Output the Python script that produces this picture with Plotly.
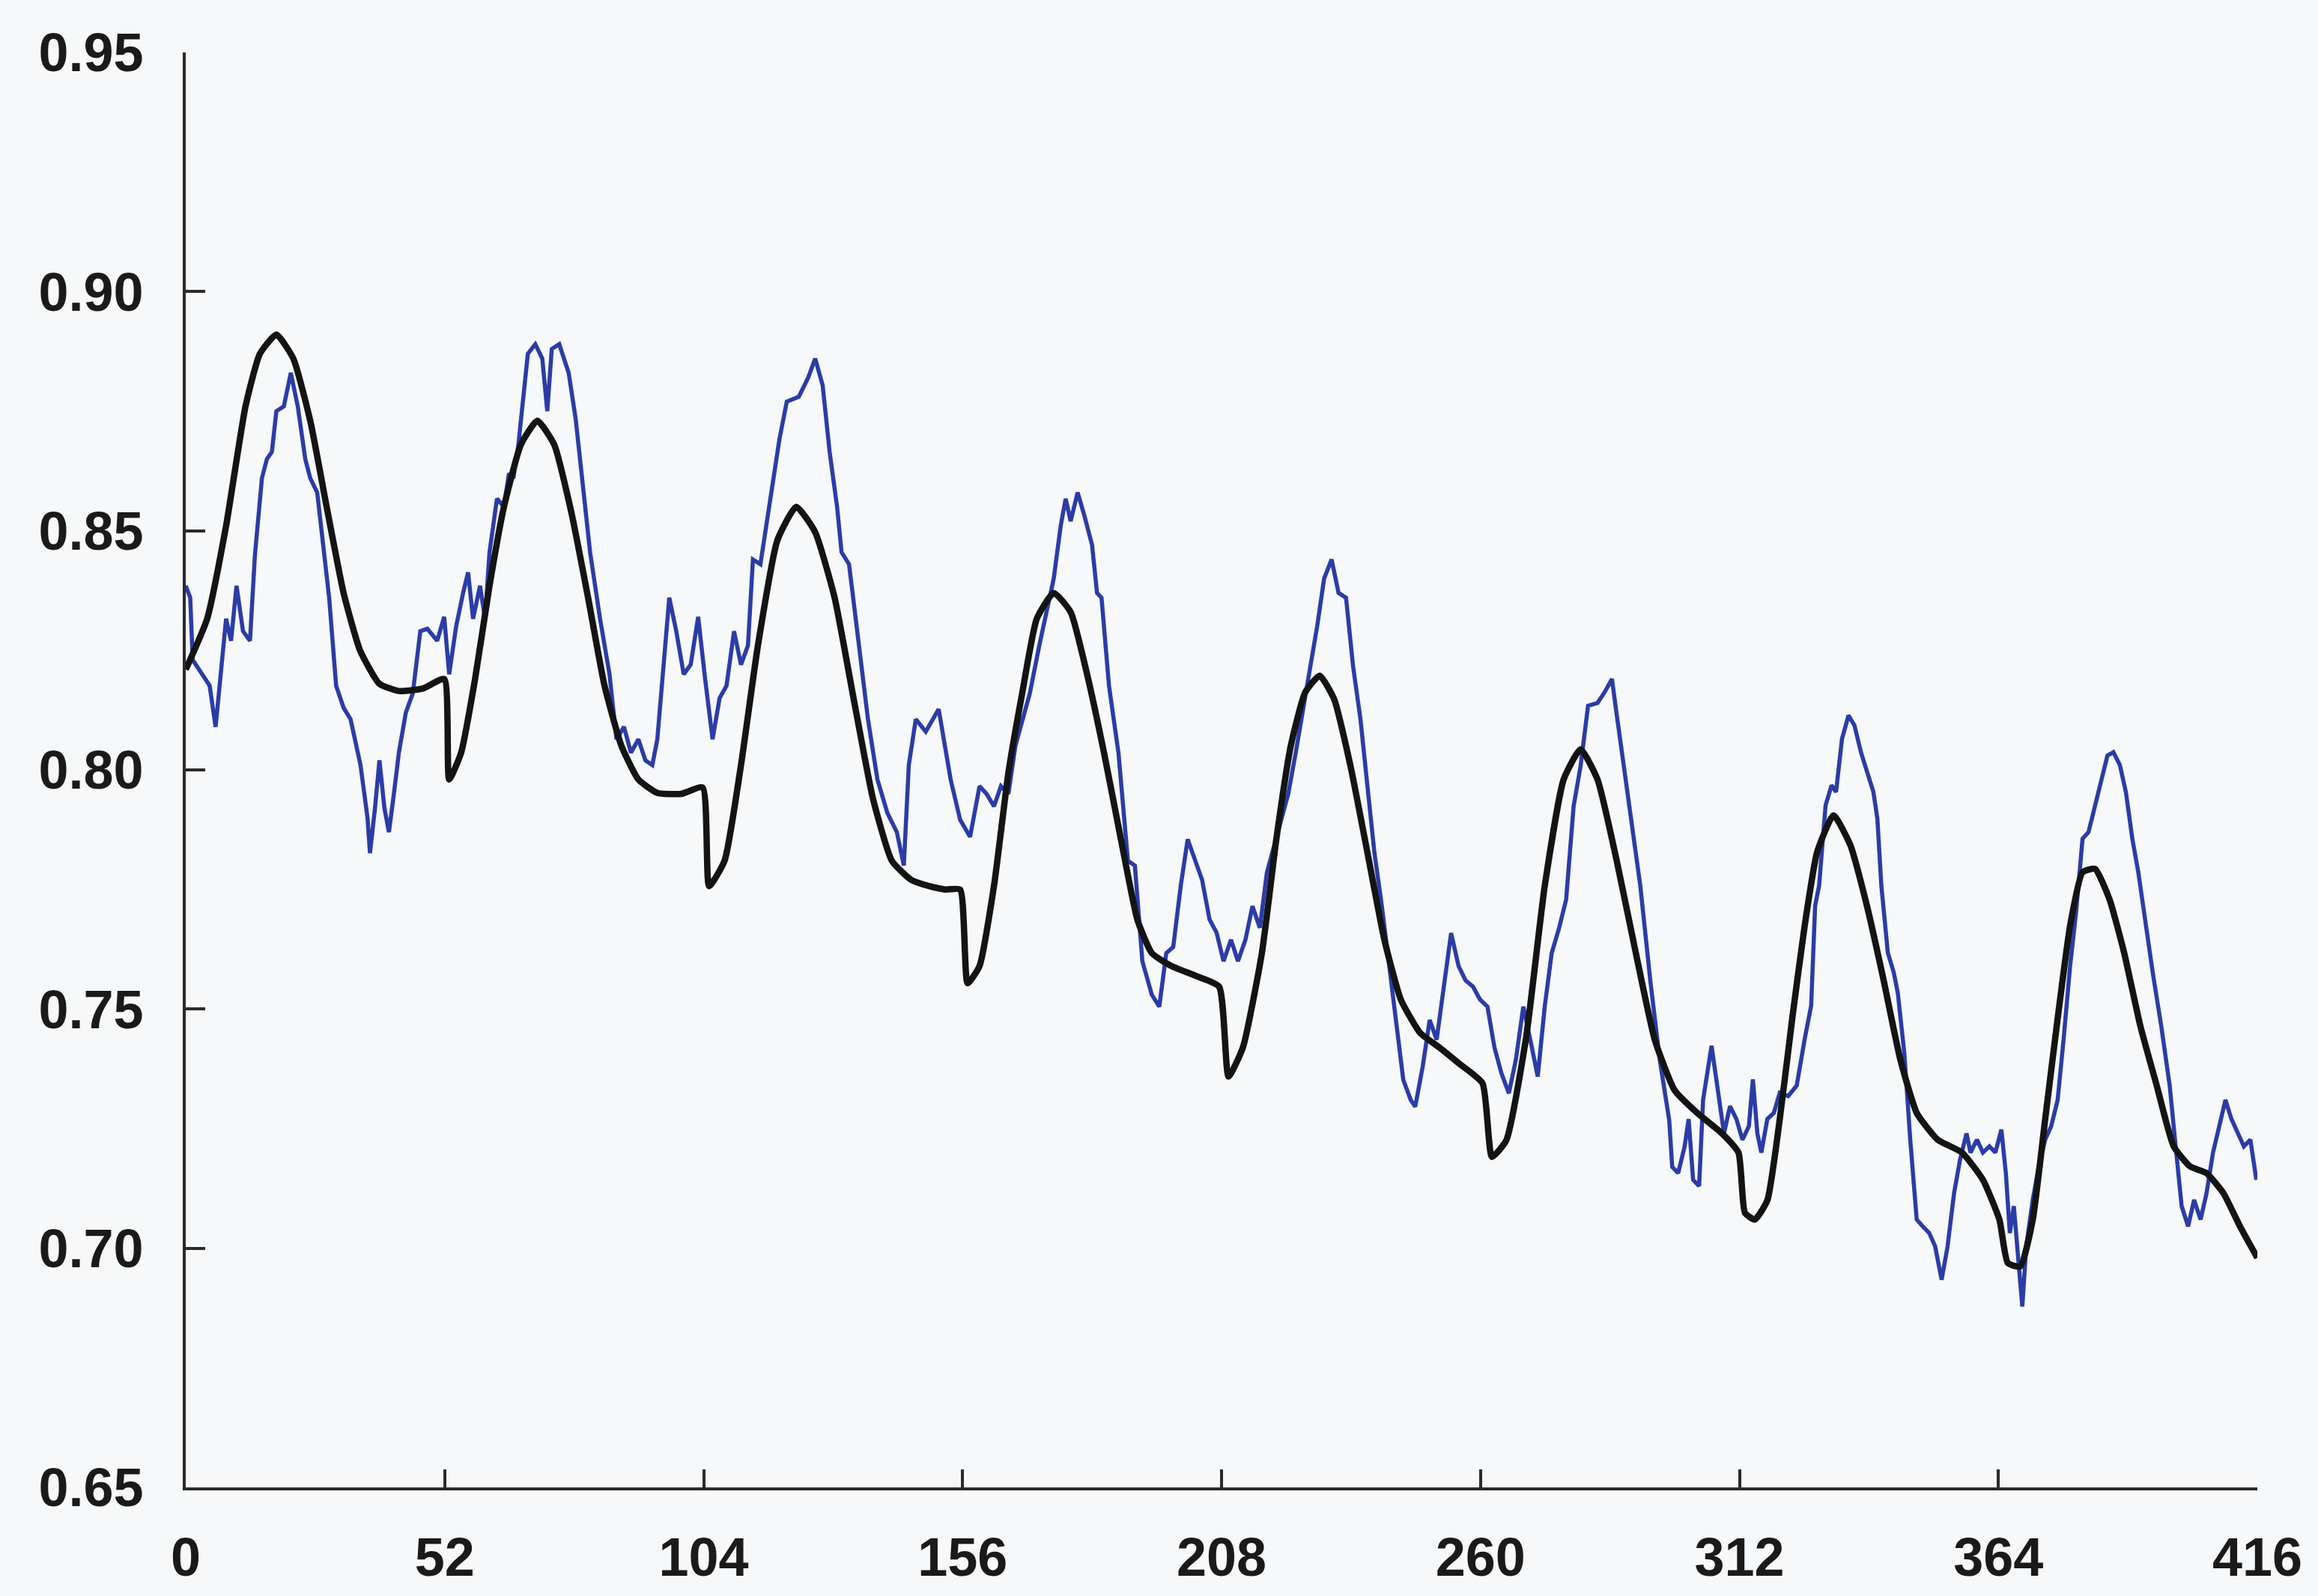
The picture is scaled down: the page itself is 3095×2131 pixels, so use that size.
import plotly.graph_objects as go

# ---- data ----
black_weeks = [0, 4.3, 8.1, 12, 14.9, 18.2, 21.6, 25, 28.3, 31.7, 35, 38.9, 42.8, 47.6, 51.9,
               52.9, 55.3, 58.1, 61, 63.9, 67.3, 70.6, 74, 77.4, 80.8, 84.1, 87.5, 90.9, 94.7, 99.5, 103.8,
               105.1, 108.2, 111.5, 114.9, 118.8, 122.6, 126.4, 130.3, 134.1, 138, 141.8, 145.7, 149.3, 152.6, 155.5,
               157, 159.4, 162.3, 165.2, 168, 170.9, 174.3, 177.7, 181, 184.4, 187.8, 191.1, 194, 197.9, 202.7, 207.5,
               209.4, 212.3, 216.1, 219, 221.9, 224.8, 227.7, 230.6, 233.9, 237.3, 240.7, 244, 247.9, 251.7, 255.6, 260.4,
               262.3, 265.2, 269.1, 272.9, 276.7, 280.1, 283.5, 287.3, 291.2, 295, 299, 303.5, 308.5, 311.8,
               313.1, 315.1, 317.6, 320.1, 322.6, 325.1, 327.6, 330.9, 334.3, 337.6, 340.9, 344.3, 347.6, 351.8, 356.7,
               360.9, 364.2, 365.9, 368.4, 370.9, 373.4, 375.9, 378.4, 380.9, 383.4, 386.3, 389.2, 392.5, 395.8, 399.2,
               402.5, 405.8, 409.2, 412.5, 416]
black_values = [0.821, 0.8316, 0.851, 0.876, 0.887, 0.891, 0.886, 0.873, 0.855, 0.837, 0.825, 0.818, 0.8165, 0.817, 0.819,
                0.798, 0.8036, 0.819, 0.8385, 0.855, 0.868, 0.873, 0.868, 0.854, 0.836, 0.8176, 0.805, 0.798, 0.7952, 0.795, 0.7963,
                0.7757, 0.781, 0.801, 0.826, 0.848, 0.855, 0.8497, 0.836, 0.815, 0.794, 0.781, 0.777, 0.7757, 0.775, 0.775,
                0.7554, 0.759, 0.7757, 0.7994, 0.8162, 0.8316, 0.837, 0.833, 0.820, 0.8036, 0.7855, 0.7687, 0.7617, 0.759, 0.757, 0.7547,
                0.7359, 0.742, 0.7617, 0.7855, 0.805, 0.8162, 0.8197, 0.8148, 0.8008, 0.7827, 0.7645, 0.752, 0.745, 0.742, 0.7387, 0.7345,
                0.7191, 0.7226, 0.7436, 0.7757, 0.798, 0.8043, 0.798, 0.7813, 0.7617, 0.7436, 0.733, 0.7283, 0.724, 0.720,
                0.7074, 0.706, 0.710, 0.727, 0.748, 0.7674, 0.7828, 0.7905, 0.7842, 0.7716, 0.7563, 0.7395, 0.7283, 0.7227, 0.720,
                0.7143, 0.706, 0.6969, 0.6962, 0.706, 0.727, 0.748, 0.7674, 0.7786, 0.7793, 0.773, 0.762, 0.7465, 0.734, 0.7213,
                0.7171, 0.7157, 0.7115, 0.7046, 0.698]

blue_weeks = [0, 0.9, 1.4, 3.3, 4.8, 6, 7.2, 8.1, 9.1, 10.2, 11.5, 12.9, 13.9, 15.3, 16.3, 17.3, 18.2, 19.7, 21.1, 22.5,
              24, 25, 26.4, 27.4, 28.8, 30.2, 31.7, 33.1, 35.1, 36.5, 37, 38, 38.9, 39.9, 40.8, 41.8, 42.8, 44.2, 45.6, 47.1,
              48.5, 50.5, 51.9, 52.9, 54.3, 55.7, 56.7, 57.7, 59.1, 60.1, 61, 62.5, 63.9, 64.9, 65.8, 66.8, 67.8, 68.7, 70.2,
              71.6, 72.6, 73.5, 75, 76.9, 78.3, 79.8, 81.2, 83.2, 85.1, 86.5, 88, 89.4, 90.9, 92.3, 93.7, 94.7, 95.7, 97.1,
              98.5, 100, 101.4, 102.9, 104.3, 105.8, 107.2, 108.6, 110.1, 111.5, 112.9, 113.9, 115.4, 117.3, 119.2, 120.7,
              123.1, 125, 126.4, 127.9, 129.3, 130.8, 131.7, 133.2, 135.1, 137, 138.9, 140.9, 142.8, 144.2, 145.2, 146.6,
              148.6, 151.2, 153.6, 155.5, 157.5, 159.4, 160.8, 162.3, 163.7, 165.2, 166.6, 168, 169.5, 171.4, 172.9, 174.3,
              175.7, 176.7, 177.7, 179.1, 180.5, 182, 183, 183.9, 185.4, 187.3, 189.2, 190.6, 192.1, 194, 195.5, 196.9,
              198.3, 199.8, 201.2, 202.7, 204.1, 205.6, 207, 208.4, 209.9, 211.3, 212.8, 214.2, 215.7, 217.1, 218.5, 220,
              221.4, 222.9, 224.3, 225.8, 227.2, 228.6, 230.1, 231.5, 233, 234.4, 235.9, 237.3, 238.7, 240.2, 241.6, 243.1,
              244.5, 246, 246.9, 248.4, 249.8, 251.2, 252.7, 254.1, 255.6, 257, 258.5, 259.9, 261.4, 262.8, 264.2, 265.7,
              267.1, 268.6, 270, 271.5, 272.9, 274.3, 275.8, 277.2, 278.7, 280.1, 281.6, 283.5, 284.9, 286.4, 287.3, 288.8,
              290.2, 292.1, 294.1, 296, 297.9, 298.5, 299.7, 301, 301.8, 302.7, 303.9, 304.7, 306.4, 307.6, 308.9, 310.1,
              311.4, 312.6, 313.9, 314.7, 315.6, 316.4, 317.6, 318.9, 320.1, 321.8, 323.5, 325.1, 326.4, 327.2, 328, 329.3,
              330.5, 331.4, 332.6, 333.9, 335.1, 336.4, 337.6, 338.9, 339.7, 340.5, 341.8, 343, 343.8, 345.1, 346.3, 347.6,
              348.8, 350.1, 351.3, 352.6, 353.8, 355.1, 356.3, 357.6, 358.4, 359.7, 360.9, 362.2, 363.4, 364.6, 365.5, 366.3,
              367.1, 368, 368.8, 369.6, 370.9, 372.1, 373.4, 374.6, 375.9, 377.1, 378.4, 379.6, 380.9, 382.1, 383.4, 384.6,
              385.9, 387.1, 388.4, 389.6, 390.9, 392.1, 393.4, 395, 396.7, 398.4, 399.6, 400.8, 402.1, 403.3, 404.6, 405.8,
              407.1, 408.3, 409.6, 410.8, 412.1, 413.3, 414.6, 415.8]
blue_values = [0.8385, 0.836, 0.823, 0.820, 0.8176, 0.809, 0.823, 0.8316, 0.827, 0.8385, 0.829, 0.827, 0.845, 0.861, 0.865,
               0.8665, 0.875, 0.876, 0.883, 0.876, 0.865, 0.861, 0.858, 0.848, 0.836, 0.8176, 0.813, 0.8106, 0.801, 0.790,
               0.7826, 0.792, 0.802, 0.792, 0.787, 0.795, 0.8036, 0.812, 0.816, 0.829, 0.8295, 0.827, 0.832, 0.820, 0.830,
               0.837, 0.8413, 0.8316, 0.8385, 0.8316, 0.8455, 0.8567, 0.855, 0.862, 0.861, 0.868, 0.879, 0.887, 0.889, 0.886,
               0.875, 0.888, 0.889, 0.883, 0.8734, 0.8595, 0.8455, 0.8316, 0.820, 0.8064, 0.809, 0.8036, 0.8064, 0.802, 0.801,
               0.8064, 0.819, 0.836, 0.829, 0.820, 0.822, 0.832, 0.819, 0.8064, 0.815, 0.8176, 0.829, 0.822, 0.826, 0.844,
               0.843, 0.8567, 0.869, 0.877, 0.878, 0.882, 0.886, 0.8804, 0.8665, 0.855, 0.8455, 0.843, 0.827, 0.8106, 0.798,
               0.791, 0.787, 0.780, 0.801, 0.8106, 0.808, 0.8127, 0.798, 0.7896, 0.786, 0.7966, 0.795, 0.7924, 0.7966, 0.795,
               0.805, 0.8106, 0.816, 0.826, 0.833, 0.840, 0.851, 0.8567, 0.852, 0.858, 0.853, 0.847, 0.837, 0.836, 0.8176,
               0.8036, 0.781, 0.780, 0.760, 0.753, 0.7505, 0.7617, 0.763, 0.7757, 0.7855, 0.781, 0.777, 0.7687, 0.766, 0.760,
               0.7645, 0.760, 0.7645, 0.7715, 0.767, 0.7785, 0.7841, 0.7896, 0.795, 0.8036, 0.812, 0.8218, 0.830, 0.840, 0.844,
               0.837, 0.836, 0.8218, 0.8106, 0.7966, 0.7827, 0.7715, 0.760, 0.7477, 0.7352, 0.731, 0.7296, 0.738, 0.7477,
               0.7436, 0.7547, 0.7659, 0.759, 0.756, 0.7547, 0.752, 0.7505, 0.742, 0.7366, 0.7324, 0.7394, 0.7505, 0.7436,
               0.7359, 0.7505, 0.7617, 0.767, 0.7729, 0.7924, 0.8008, 0.8134, 0.814, 0.8162, 0.819, 0.812, 0.8008, 0.7896,
               0.7757, 0.756, 0.7394, 0.7268, 0.717, 0.7157, 0.7213, 0.727, 0.7143, 0.713, 0.731, 0.7423, 0.734, 0.724, 0.7297,
               0.727, 0.7227, 0.7255, 0.7353, 0.724, 0.720, 0.727, 0.7283, 0.7325, 0.7318, 0.734, 0.7437, 0.7507, 0.7716,
               0.7758, 0.7926, 0.7968, 0.7954, 0.8065, 0.8114, 0.8093, 0.8037, 0.7996, 0.7954, 0.7898, 0.7758, 0.7618, 0.7576,
               0.7534, 0.7409, 0.7227, 0.706, 0.7046, 0.7032, 0.7004, 0.6934, 0.7004, 0.7115, 0.7185, 0.724, 0.720, 0.7227,
               0.720, 0.7213, 0.720, 0.7248, 0.7157, 0.7032, 0.7088, 0.6962, 0.6878, 0.7004, 0.7101, 0.7171, 0.7227, 0.7255,
               0.731, 0.7437, 0.759, 0.7702, 0.7856, 0.787, 0.7926, 0.7982, 0.803, 0.8037, 0.801, 0.7954, 0.7856, 0.7786,
               0.7688, 0.7576, 0.7465, 0.734, 0.7213, 0.7088, 0.7046, 0.7101, 0.706, 0.7115, 0.720, 0.7255, 0.731, 0.727,
               0.724, 0.7213, 0.7227, 0.7143]

x_ticks = [0, 52, 104, 156, 208, 260, 312, 364, 416]
y_ticks = [0.65, 0.70, 0.75, 0.80, 0.85, 0.90, 0.95]

BG = "#f6f8fa"
AX = "#2a2a2a"
FONT = dict(family="Liberation Sans, Arial, sans-serif", size=72, color="#1a1a1a", weight="bold")

fig = go.Figure()
fig.add_trace(go.Scatter(x=blue_weeks, y=blue_values, mode="lines",
                         line=dict(color="#2b3ca6", width=5.5), showlegend=False))
fig.add_trace(go.Scatter(x=black_weeks, y=black_values, mode="lines",
                         line=dict(color="#141414", width=8.5, shape="spline", smoothing=0.5),
                         showlegend=False))

fig.update_layout(
    width=3095, height=2131,
    margin=dict(l=248, r=81, t=70, b=141, pad=0),
    paper_bgcolor=BG, plot_bgcolor=BG,
    font=FONT,
    xaxis=dict(range=[0, 416], tickvals=x_ticks, ticktext=[str(v) for v in x_ticks],
               showgrid=False, zeroline=False, showline=True, linecolor=AX, linewidth=4,
               ticks="inside", ticklen=24, tickwidth=4, tickcolor=AX,
               ticklabelstandoff=28, tickfont=FONT),
    yaxis=dict(range=[0.65, 0.95], tickvals=y_ticks, ticktext=[f"{v:.2f}" for v in y_ticks],
               showgrid=False, zeroline=False, showline=True, linecolor=AX, linewidth=4,
               ticks="inside", ticklen=26, tickwidth=4, tickcolor=AX,
               ticklabelstandoff=38, tickfont=FONT),
)

fig.write_html("out.html")
